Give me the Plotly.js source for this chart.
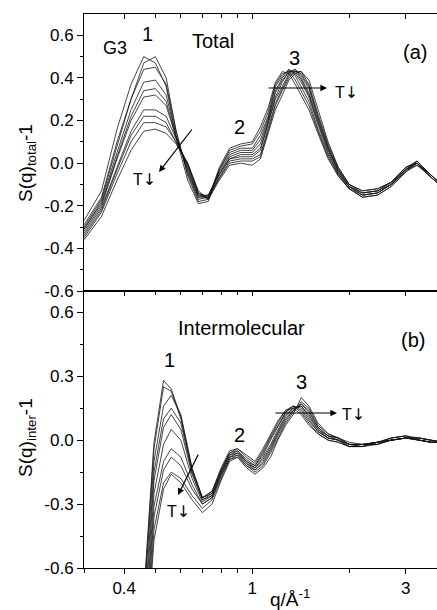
<!DOCTYPE html>
<html>
<head>
<meta charset="utf-8">
<script src="https://cdn.plot.ly/plotly-3.0.1.min.js"></script>
<style>html,body{margin:0;padding:0;background:#fff;}#chart{width:437px;height:610px;}</style>
</head>
<body>
<div id="chart"></div>
<script>
// ---- Panel (a): total S(q)-1 ----
const qTotal = [0.30,0.34,0.38,0.42,0.46,0.50,0.54,0.58,0.63,0.68,0.73,0.79,0.85,0.92,1.00,1.06,1.12,1.18,1.24,1.30,1.36,1.42,1.50,1.60,1.72,1.85,2.00,2.20,2.45,2.70,3.00,3.25,3.50,3.80];
const tot1  = [-0.29,-0.16,0.10,0.30,0.47,0.50,0.40,0.15,-0.06,-0.18,-0.17,-0.02,0.07,0.09,0.10,0.17,0.26,0.38,0.43,0.42,0.37,0.32,0.25,0.14,0.02,-0.06,-0.12,-0.16,-0.15,-0.11,-0.04,0.00,-0.05,-0.10];
const tot2  = [-0.27,-0.13,0.16,0.37,0.50,0.47,0.36,0.12,-0.08,-0.19,-0.18,-0.03,0.06,0.08,0.09,0.15,0.24,0.37,0.42,0.43,0.39,0.34,0.27,0.15,0.03,-0.06,-0.12,-0.16,-0.15,-0.11,-0.04,0.01,-0.04,-0.09];
const tot3  = [-0.30,-0.17,0.08,0.30,0.44,0.45,0.37,0.15,-0.05,-0.17,-0.16,-0.03,0.05,0.07,0.07,0.13,0.22,0.36,0.41,0.44,0.41,0.36,0.29,0.16,0.04,-0.05,-0.12,-0.15,-0.14,-0.10,-0.04,-0.01,-0.05,-0.10];
const tot4  = [-0.31,-0.18,0.05,0.25,0.38,0.39,0.32,0.13,-0.04,-0.16,-0.16,-0.04,0.04,0.06,0.06,0.11,0.21,0.34,0.40,0.44,0.42,0.38,0.31,0.18,0.05,-0.05,-0.11,-0.15,-0.14,-0.10,-0.03,0.00,-0.04,-0.09];
const tot5  = [-0.31,-0.19,0.03,0.22,0.34,0.35,0.29,0.12,-0.03,-0.16,-0.15,-0.05,0.03,0.05,0.05,0.09,0.20,0.33,0.39,0.43,0.43,0.39,0.32,0.19,0.06,-0.04,-0.11,-0.15,-0.14,-0.10,-0.03,0.01,-0.04,-0.09];
const tot6  = [-0.32,-0.20,0.02,0.20,0.31,0.32,0.27,0.12,-0.02,-0.15,-0.15,-0.05,0.02,0.04,0.04,0.07,0.19,0.31,0.38,0.43,0.44,0.40,0.33,0.20,0.07,-0.04,-0.11,-0.14,-0.13,-0.10,-0.03,0.00,-0.05,-0.10];
const tot7  = [-0.33,-0.21,-0.02,0.15,0.25,0.25,0.22,0.11,-0.01,-0.15,-0.16,-0.06,0.02,0.03,0.03,0.06,0.18,0.30,0.36,0.42,0.44,0.41,0.35,0.21,0.07,-0.03,-0.11,-0.14,-0.13,-0.09,-0.03,-0.01,-0.04,-0.09];
const tot8  = [-0.34,-0.22,-0.03,0.13,0.22,0.22,0.19,0.10,-0.01,-0.14,-0.16,-0.07,0.01,0.02,0.02,0.04,0.17,0.28,0.35,0.41,0.43,0.42,0.36,0.22,0.08,-0.03,-0.10,-0.14,-0.13,-0.09,-0.02,0.00,-0.05,-0.10];
const tot9  = [-0.35,-0.23,-0.05,0.10,0.19,0.19,0.17,0.10,0.00,-0.14,-0.17,-0.07,0.00,0.01,0.01,0.03,0.15,0.27,0.34,0.40,0.43,0.43,0.37,0.23,0.09,-0.02,-0.10,-0.13,-0.12,-0.09,-0.02,0.01,-0.04,-0.09];
const tot10 = [-0.36,-0.25,-0.08,0.06,0.15,0.16,0.14,0.09,0.00,-0.13,-0.17,-0.08,-0.01,0.00,-0.01,0.02,0.14,0.25,0.32,0.39,0.42,0.43,0.39,0.25,0.10,-0.02,-0.10,-0.13,-0.12,-0.09,-0.02,0.00,-0.05,-0.10];

// ---- Panel (b): intermolecular S(q)-1 ----
const qInter = [0.30,0.36,0.42,0.465,0.495,0.53,0.56,0.60,0.65,0.70,0.75,0.80,0.85,0.90,0.96,1.02,1.08,1.14,1.20,1.27,1.34,1.42,1.50,1.60,1.72,1.85,2.00,2.20,2.45,2.70,3.00,3.30,3.60,3.90];
const int1  = [-3.2,-2.4,-1.4,-0.62,-0.01,0.28,0.24,0.11,-0.14,-0.27,-0.24,-0.13,-0.05,-0.04,-0.07,-0.10,-0.04,0.03,0.09,0.14,0.15,0.12,0.07,0.03,0.00,-0.01,-0.03,-0.03,-0.02,0.00,0.01,0.00,-0.01,-0.01];
const int2  = [-3.3,-2.5,-1.5,-0.65,-0.04,0.25,0.23,0.10,-0.14,-0.27,-0.24,-0.14,-0.06,-0.04,-0.08,-0.11,-0.05,0.02,0.08,0.14,0.16,0.13,0.08,0.03,0.00,-0.01,-0.03,-0.02,-0.01,0.01,0.02,0.01,0.00,-0.01];
const int3  = [-3.4,-2.6,-1.6,-0.70,-0.10,0.16,0.21,0.12,-0.13,-0.27,-0.25,-0.14,-0.06,-0.05,-0.09,-0.12,-0.06,0.01,0.07,0.13,0.16,0.14,0.09,0.04,0.01,0.00,-0.03,-0.03,-0.01,0.00,0.01,0.00,-0.01,-0.01];
const int4  = [-3.5,-2.7,-1.7,-0.75,-0.15,0.10,0.15,0.08,-0.15,-0.28,-0.25,-0.15,-0.07,-0.05,-0.10,-0.12,-0.07,0.00,0.06,0.13,0.16,0.15,0.10,0.04,0.01,0.00,-0.02,-0.02,-0.02,0.00,0.01,0.01,0.00,-0.01];
const int5  = [-3.6,-2.8,-1.8,-0.80,-0.19,0.06,0.12,0.05,-0.16,-0.28,-0.26,-0.15,-0.07,-0.06,-0.10,-0.13,-0.08,-0.02,0.05,0.12,0.15,0.16,0.11,0.05,0.01,0.00,-0.02,-0.02,-0.01,0.01,0.02,0.00,-0.01,-0.01];
const int6  = [-3.7,-2.9,-1.9,-0.85,-0.25,-0.02,0.05,0.00,-0.18,-0.29,-0.26,-0.16,-0.08,-0.06,-0.11,-0.13,-0.09,-0.03,0.04,0.11,0.15,0.16,0.12,0.05,0.02,0.00,-0.03,-0.03,-0.01,0.00,0.01,0.01,0.00,-0.01];
const int7  = [-3.8,-3.0,-2.0,-0.90,-0.31,-0.10,-0.04,-0.08,-0.21,-0.30,-0.27,-0.16,-0.08,-0.07,-0.11,-0.14,-0.10,-0.04,0.03,0.10,0.14,0.17,0.13,0.06,0.02,0.01,-0.02,-0.02,-0.01,0.00,0.01,0.00,-0.01,-0.01];
const int8  = [-3.9,-3.1,-2.1,-0.95,-0.36,-0.14,-0.08,-0.12,-0.23,-0.30,-0.27,-0.17,-0.09,-0.07,-0.12,-0.14,-0.11,-0.05,0.02,0.09,0.14,0.17,0.14,0.06,0.02,0.01,-0.02,-0.02,-0.02,0.01,0.02,0.00,-0.01,-0.01];
const int9  = [-4.0,-3.2,-2.2,-1.00,-0.42,-0.20,-0.15,-0.18,-0.26,-0.32,-0.28,-0.18,-0.09,-0.08,-0.12,-0.15,-0.12,-0.06,0.01,0.08,0.13,0.18,0.15,0.07,0.03,0.01,-0.02,-0.03,-0.01,0.00,0.01,0.01,0.00,-0.01];
const int10 = [-4.1,-3.3,-2.3,-1.05,-0.47,-0.23,-0.16,-0.20,-0.28,-0.34,-0.30,-0.19,-0.10,-0.08,-0.13,-0.16,-0.13,-0.08,0.00,0.07,0.12,0.20,0.16,0.08,0.03,0.01,-0.01,-0.02,-0.01,0.00,0.01,0.00,-0.01,-0.01];

// ---- Tick labels ----
const xTickVals = [0.4, 1, 3];
const xTickText = ['0.4', '1', '3'];
const xMinorVals = [0.3, 0.5, 0.6, 0.7, 0.8, 0.9, 2];
const yTopTickVals = [-0.6, -0.4, -0.2, 0, 0.2, 0.4, 0.6];
const yTopTickText = ['-0.6', '-0.4', '-0.2', '0.0', '0.2', '0.4', '0.6'];
const yTopMinor = [-0.5, -0.3, -0.1, 0.1, 0.3, 0.5];
const yBotTickVals = [-0.6, -0.3, 0, 0.3, 0.6];
const yBotTickText = ['-0.6', '-0.3', '0.0', '0.3', '0.6'];
const yBotMinor = [-0.45, -0.15, 0.15, 0.45];

const totalSeries = [tot1, tot2, tot3, tot4, tot5, tot6, tot7, tot8, tot9, tot10];
const interSeries = [int1, int2, int3, int4, int5, int6, int7, int8, int9, int10];

const FONT = 'Arial, "Liberation Sans", "DejaVu Sans", sans-serif';
const lineStyle = {color: '#151515', width: 0.8};

const traces = [];
totalSeries.forEach(s => traces.push({x: qTotal, y: s, xaxis: 'x', yaxis: 'y', mode: 'lines', line: lineStyle, showlegend: false, hoverinfo: 'skip'}));
interSeries.forEach(s => traces.push({x: qInter, y: s, xaxis: 'x2', yaxis: 'y2', mode: 'lines', line: lineStyle, showlegend: false, hoverinfo: 'skip'}));
traces.push({x: [], y: [], xaxis: 'x3', yaxis: 'y2', mode: 'lines', showlegend: false, hoverinfo: 'skip'});

const xr = [Math.log10(0.3), Math.log10(3.75)];
const baseX = {
  type: 'log', range: xr, showgrid: false, zeroline: false,
  showline: true, linecolor: 'black', linewidth: 1,
  tickmode: 'array', tickvals: xTickVals, ticktext: xTickText,
  ticklen: 5, tickcolor: 'black', tickwidth: 1,
  tickfont: {family: FONT, size: 17, color: 'black'},
  minor: {tickmode: 'array', tickvals: xMinorVals, ticklen: 4, tickcolor: 'black', tickwidth: 1, showgrid: false}
};

const layout = {
  width: 437, height: 610,
  margin: {l: 84, r: 0, t: 14, b: 42},
  paper_bgcolor: 'white', plot_bgcolor: 'white',
  font: {family: FONT, color: 'black'},
  showlegend: false,
  xaxis: Object.assign({}, baseX, {anchor: 'y', side: 'top', ticks: 'inside', showticklabels: false, mirror: true, minor: Object.assign({}, baseX.minor, {ticks: 'inside'})}),
  xaxis2: Object.assign({}, baseX, {anchor: 'y2', side: 'bottom', ticks: 'outside', showticklabels: true, mirror: true, minor: Object.assign({}, baseX.minor, {ticks: 'outside'})}),
  xaxis3: Object.assign({}, baseX, {anchor: 'y2', overlaying: 'x2', side: 'top', ticks: 'inside', showticklabels: false, showline: false, minor: Object.assign({}, baseX.minor, {ticks: 'inside'})}),
  yaxis: {
    domain: [0.5, 1], range: [-0.6, 0.7], showgrid: false, zeroline: false,
    showline: true, linecolor: 'black', linewidth: 1,
    tickmode: 'array', tickvals: yTopTickVals, ticktext: yTopTickText,
    ticks: 'outside', ticklen: 6, tickcolor: 'black', tickwidth: 1,
    tickfont: {family: FONT, size: 17, color: 'black'},
    minor: {tickmode: 'array', tickvals: yTopMinor, ticks: 'outside', ticklen: 3, tickcolor: 'black', tickwidth: 1, showgrid: false}
  },
  yaxis2: {
    domain: [0, 0.5], range: [-0.6, 0.7], showgrid: false, zeroline: false,
    showline: true, linecolor: 'black', linewidth: 1,
    tickmode: 'array', tickvals: yBotTickVals, ticktext: yBotTickText,
    ticks: 'outside', ticklen: 6, tickcolor: 'black', tickwidth: 1,
    tickfont: {family: FONT, size: 17, color: 'black'},
    minor: {tickmode: 'array', tickvals: yBotMinor, ticks: 'outside', ticklen: 3, tickcolor: 'black', tickwidth: 1, showgrid: false}
  },
  annotations: []
};

function txt(t, x, y, size, extra) {
  layout.annotations.push(Object.assign({text: t, x: x, y: y, xref: 'paper', yref: 'paper', showarrow: false,
    xanchor: 'center', yanchor: 'middle', font: {family: FONT, size: size, color: 'black'}}, extra || {}));
}
function arrow(x, y, ax, ay) {
  layout.annotations.push({text: '', x: x, y: y, xref: 'paper', yref: 'paper', ax: ax, ay: ay,
    showarrow: true, arrowhead: 2, arrowsize: 1.1, arrowwidth: 1.2, arrowcolor: 'black', standoff: 0, startstandoff: 0});
}
const TDOWN = 'T<span style="font-family:\'DejaVu Sans\'">\u2193</span>';

// panel (a)
txt('1', 0.1785, 0.9639, 20);
txt('G3', 0.0878, 0.9386, 18);
txt('Total', 0.3654, 0.9513, 20);
txt('(a)', 0.9377, 0.9314, 20);
txt('3', 0.5977, 0.9206, 20);
txt('2', 0.4391, 0.7960, 20);
txt(TDOWN, 0.745, 0.8592, 16);
txt(TDOWN, 0.1728, 0.7004, 16);
arrow(0.2125, 0.7148, 34, -44);
arrow(0.6884, 0.8664, -60, 0);
// panel (b)
txt('Intermolecular', 0.4448, 0.4332, 20);
txt('(b)', 0.9329, 0.4116, 20);
txt('1', 0.2408, 0.3755, 20);
txt('2', 0.4419, 0.2392, 20);
txt('3', 0.6167, 0.3363, 20);
txt(TDOWN, 0.763, 0.2762, 16);
txt(TDOWN, 0.2663, 0.1016, 16);
arrow(0.7167, 0.2798, -63, 0);
arrow(0.2663, 0.1318, 21, -42);
// axis titles
txt('q/\u00C5<sup>-1</sup>', 0.5836, -0.0542, 19);
txt('S(q)<sub>total</sub>-1', -0.1615, 0.731, 19, {textangle: -90});
txt('S(q)<sub>inter</sub>-1', -0.1615, 0.2365, 19, {textangle: -90});

Plotly.newPlot('chart', traces, layout, {displayModeBar: false, staticPlot: true});
</script>
</body>
</html>
